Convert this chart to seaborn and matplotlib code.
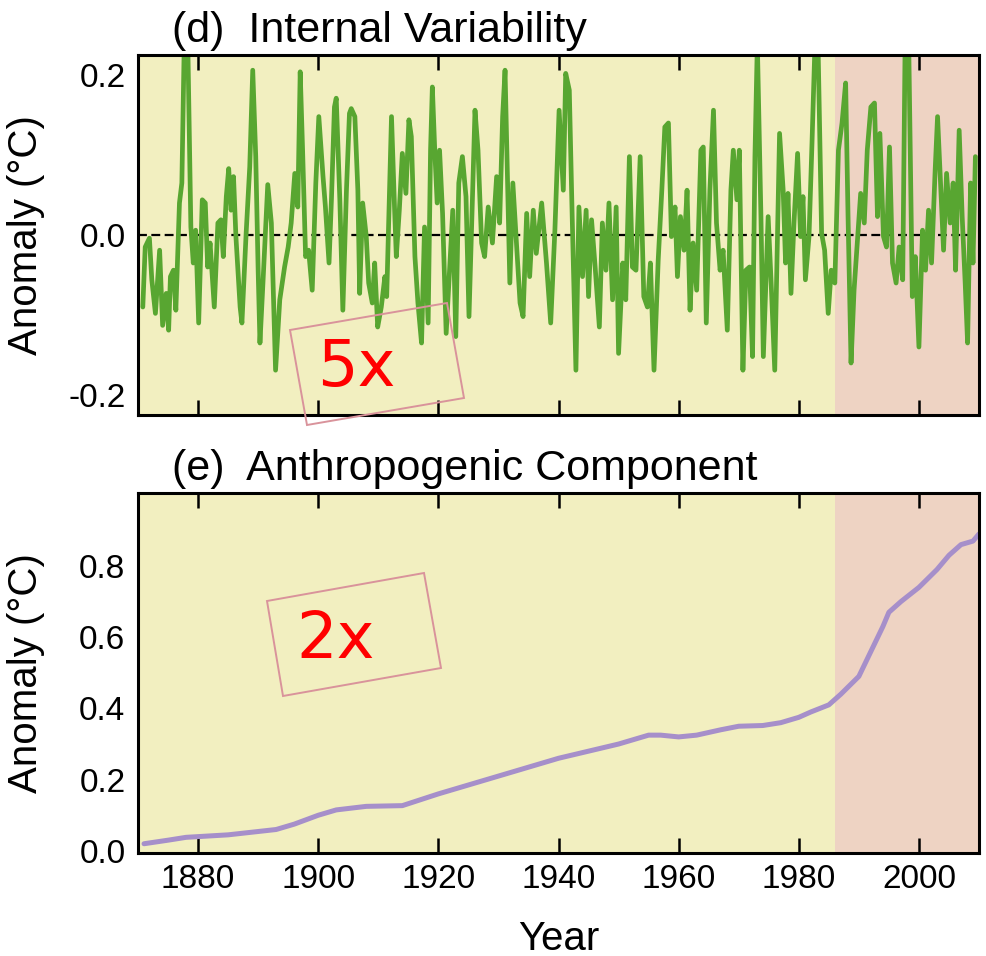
import matplotlib
matplotlib.use('Agg')
import matplotlib.pyplot as plt
from matplotlib.patches import Polygon
import seaborn as sns
import pandas as pd

# (d) internal variability
iv_years = [
    1870.8, 1871.2, 1871.9, 1872.3, 1872.9, 1873.6, 1874.1, 1874.7, 1875.1, 1875.4,
    1875.9, 1876.3, 1876.9, 1877.3, 1877.7, 1878.3, 1878.8, 1879.2, 1879.6, 1880.1,
    1880.7, 1881.2, 1881.6, 1882.0, 1882.7, 1883.3, 1883.8, 1884.2, 1884.7, 1885.1,
    1885.5, 1885.9, 1886.3, 1887.0, 1887.3, 1888.0, 1888.6, 1889.1, 1889.6, 1890.0,
    1890.3, 1890.8, 1891.6, 1892.2, 1892.9, 1893.6, 1894.4, 1895.0, 1895.5, 1896.1,
    1896.6, 1897.0, 1897.4, 1897.9, 1898.4, 1899.0, 1899.6, 1900.1, 1900.8, 1901.2,
    1901.8, 1902.2, 1902.7, 1903.0, 1903.6, 1904.1, 1904.7, 1905.2, 1905.5, 1906.1,
    1906.6, 1906.9, 1907.4, 1908.0, 1908.4, 1909.0, 1909.4, 1909.9, 1910.5, 1911.1,
    1911.4, 1911.9, 1912.2, 1912.7, 1913.0, 1913.5, 1914.0, 1914.6, 1915.1, 1915.5,
    1916.1, 1916.6, 1917.2, 1917.7, 1918.3, 1918.7, 1919.0, 1919.4, 1919.8, 1920.2,
    1920.7, 1921.3, 1921.9, 1922.4, 1922.9, 1923.4, 1924.0, 1924.6, 1925.1, 1925.7,
    1926.1, 1926.6, 1927.2, 1927.7, 1928.3, 1929.0, 1929.7, 1930.2, 1930.7, 1931.1,
    1931.4, 1931.9, 1932.4, 1933.0, 1933.6, 1934.1, 1934.7, 1935.2, 1935.8, 1936.3,
    1937.2, 1938.0, 1938.7, 1939.4, 1940.1, 1940.8, 1941.2, 1941.8, 1942.2, 1942.9,
    1943.4, 1944.0, 1944.6, 1945.0, 1945.5, 1946.1, 1946.8, 1947.3, 1947.9, 1948.4,
    1949.0, 1949.6, 1950.0, 1950.7, 1951.2, 1951.8, 1952.3, 1952.9, 1953.6, 1954.2,
    1954.8, 1955.3, 1955.9, 1956.6, 1957.2, 1957.7, 1958.3, 1958.8, 1959.4, 1959.8,
    1960.3, 1960.9, 1961.4, 1961.9, 1962.4, 1963.0, 1963.7, 1964.1, 1964.6, 1965.2,
    1965.8, 1966.3, 1966.9, 1967.4, 1968.1, 1968.7, 1969.1, 1969.7, 1970.1, 1970.7,
    1971.2, 1971.8, 1972.3, 1972.7, 1973.1, 1973.7, 1974.1, 1974.9, 1975.4, 1976.0,
    1976.4, 1976.8, 1977.4, 1977.8, 1978.2, 1978.7, 1979.2, 1979.8, 1980.3, 1980.7,
    1981.1, 1981.7, 1982.2, 1982.7, 1983.2, 1983.8, 1984.3, 1984.9, 1985.4, 1986.0,
    1986.6, 1987.2, 1987.8, 1988.2, 1988.7, 1989.2, 1989.8, 1990.3, 1990.9, 1991.4,
    1992.0, 1992.6, 1993.1, 1993.5, 1994.1, 1994.6, 1995.1, 1995.6, 1996.2, 1996.7,
    1997.3, 1997.7, 1998.3, 1998.9, 1999.4, 2000.0, 2000.6, 2001.1, 2001.6, 2002.1,
    2002.7, 2003.1, 2003.6, 2004.1, 2004.6, 2005.2, 2005.7, 2006.1, 2006.7, 2007.2,
    2007.7, 2008.1, 2008.6, 2009.0, 2009.4,
]
iv_anom = [
    -0.090, -0.015, -0.004, -0.056, -0.098, -0.019, -0.113, -0.073, -0.119, -0.052,
    -0.044, -0.094, 0.040, 0.065, 0.240, 0.235, 0.010, -0.035, 0.006, -0.110,
    0.044, 0.040, -0.040, -0.010, -0.090, 0.015, 0.019, -0.027, 0.048, 0.083,
    0.031, 0.073, -0.002, -0.090, -0.110, 0.002, 0.085, 0.206, 0.098, -0.044,
    -0.135, -0.060, 0.063, 0.015, -0.169, -0.081, -0.040, -0.015, 0.015, 0.077,
    0.035, 0.204, 0.106, -0.027, -0.019, -0.069, 0.065, 0.148, 0.073, 0.035,
    -0.035, 0.044, 0.160, 0.171, 0.044, -0.094, 0.056, 0.152, 0.158, 0.148,
    0.056, -0.073, 0.040, -0.002, -0.060, -0.085, -0.035, -0.115, -0.090, -0.052,
    -0.077, 0.065, 0.148, 0.035, -0.027, 0.031, 0.102, 0.052, 0.144, 0.123,
    -0.027, -0.085, -0.135, 0.010, -0.110, 0.106, 0.185, 0.106, 0.040, 0.106,
    0.027, -0.123, -0.040, 0.031, -0.127, 0.065, 0.098, 0.048, -0.102, 0.052,
    0.156, 0.106, -0.010, -0.027, 0.035, -0.010, 0.073, 0.015, 0.148, 0.206,
    0.106, -0.060, 0.065, -0.010, -0.085, -0.102, 0.027, -0.052, 0.031, -0.023,
    0.040, -0.035, -0.110, 0.006, 0.156, 0.056, 0.202, 0.181, 0.048, -0.169,
    0.035, -0.052, 0.031, -0.077, 0.019, -0.040, -0.115, 0.015, -0.044, 0.040,
    -0.081, 0.035, -0.148, -0.035, -0.081, 0.098, -0.040, -0.044, 0.098, -0.077,
    -0.090, -0.035, -0.169, -0.031, 0.056, 0.135, 0.140, -0.002, 0.035, -0.052,
    0.023, -0.019, 0.056, -0.094, -0.010, -0.069, 0.106, 0.110, -0.110, 0.056,
    0.156, 0.015, -0.044, -0.019, -0.119, 0.056, 0.106, 0.044, 0.106, -0.169,
    -0.044, -0.040, -0.152, 0.098, 0.240, 0.023, -0.152, 0.023, -0.060, -0.169,
    -0.019, 0.127, 0.056, -0.035, 0.052, -0.073, 0.015, 0.102, -0.002, 0.048,
    -0.056, -0.002, 0.115, 0.240, 0.240, 0.002, -0.019, -0.098, -0.044, -0.060,
    0.106, 0.140, 0.190, 0.023, -0.160, -0.069, -0.002, 0.052, 0.015, 0.106,
    0.160, 0.165, 0.023, 0.127, -0.002, -0.015, 0.110, -0.035, -0.060, -0.015,
    -0.056, 0.240, 0.240, -0.077, -0.027, -0.140, 0.006, -0.044, 0.031, -0.035,
    0.081, 0.148, 0.065, -0.019, 0.077, 0.015, 0.065, -0.044, 0.131, 0.023,
    -0.060, -0.135, 0.065, -0.035, 0.098,
]

# (e) anthropogenic component
anth_years = [1871, 1875, 1878, 1885, 1893, 1896, 1900, 1903, 1908, 1914,
              1920, 1925, 1930, 1935, 1940, 1945, 1950, 1955, 1957, 1960,
              1963, 1967, 1970, 1974, 1977, 1980, 1982, 1985, 1987, 1990,
              1992, 1994, 1995, 1997, 2000, 2003, 2005, 2007, 2009, 2010]
anth_anom = [0.020, 0.030, 0.038, 0.045, 0.060, 0.075, 0.100, 0.115, 0.125, 0.127,
             0.160, 0.185, 0.210, 0.235, 0.260, 0.280, 0.300, 0.325, 0.325, 0.320,
             0.325, 0.340, 0.350, 0.352, 0.360, 0.375, 0.390, 0.410, 0.440, 0.490,
             0.560, 0.630, 0.670, 0.700, 0.740, 0.790, 0.830, 0.860, 0.870, 0.890]

x_ticks = [1880, 1900, 1920, 1940, 1960, 1980, 2000]
split_year = 1986

YELLOW = '#f2efc0'
PINK = '#eed3c3'
GREEN = '#58a631'
PURPLE = '#a68fca'
W, H = 986, 956

sns.set_theme(style='white')
plt.rcParams['font.family'] = ['Liberation Sans', 'DejaVu Sans']
plt.rcParams['text.color'] = 'black'
plt.rcParams['axes.labelcolor'] = 'black'
plt.rcParams['xtick.color'] = 'black'
plt.rcParams['ytick.color'] = 'black'

fig = plt.figure(figsize=(W / 100, H / 100), dpi=100)
ax1 = fig.add_axes([138 / W, 1 - 415 / H, 841 / W, 360 / H])
ax2 = fig.add_axes([138 / W, 1 - 853 / H, 841 / W, 360 / H])


def style_axes(ax, title):
    ax.set_facecolor(YELLOW)
    ax.axvspan(split_year, 2010, color=PINK, lw=0, zorder=0)
    ax.set_xlim(1870, 2010)
    ax.set_xticks(x_ticks)
    ax.tick_params(axis='x', direction='in', length=11, width=1.8, color='black',
                   top=True, bottom=True, labelsize=24, pad=8)
    ax.tick_params(axis='y', length=0, labelsize=24, pad=9)
    for s in ax.spines.values():
        s.set_color('black')
        s.set_linewidth(2.2)
    ax.text(0.04, 1.012, title, transform=ax.transAxes, fontsize=31,
            ha='left', va='bottom', color='black')


df_iv = pd.DataFrame({'year': iv_years, 'anom': iv_anom})
df_anth = pd.DataFrame({'year': anth_years, 'anom': anth_anom})

# top panel
style_axes(ax1, '(d)  Internal Variability')
ax1.axhline(0, color='black', lw=1.6, ls=(0, (4, 2)), zorder=1)
sns.lineplot(data=df_iv, x='year', y='anom', ax=ax1, color=GREEN, linewidth=3.4,
             sort=False, estimator=None, zorder=2)
ax1.set_ylim(-0.225, 0.225)
ax1.set_yticks([-0.2, 0.0, 0.2])
ax1.set_yticklabels(['-0.2', '0.0', '0.2'])
ax1.set_xticklabels([])
ax1.set_xlabel('')
ax1.set_ylabel('Anomaly (°C)', fontsize=29)
ax1.yaxis.set_label_coords(-0.111, 0.5)

# bottom panel
style_axes(ax2, '(e)  Anthropogenic Component')
sns.lineplot(data=df_anth, x='year', y='anom', ax=ax2, color=PURPLE, linewidth=3.6,
             sort=False, estimator=None, zorder=2)
ax2.set_ylim(-0.006, 1.005)
ax2.set_yticks([0.0, 0.2, 0.4, 0.6, 0.8])
ax2.set_yticklabels(['0.0', '0.2', '0.4', '0.6', '0.8'])
ax2.set_xlabel('Year', fontsize=29)
ax2.xaxis.set_label_coords(0.5, -0.185)
ax2.set_ylabel('Anomaly (°C)', fontsize=29)
ax2.yaxis.set_label_coords(-0.111, 0.5)


def px(pts):
    return [(x / W, 1 - y / H) for x, y in pts]


# hand-drawn scale boxes
box5 = Polygon(px([(290, 330), (447, 303), (464, 398), (307, 425)]), closed=True,
               fill=False, edgecolor='#d9939b', lw=1.4, transform=fig.transFigure)
box2 = Polygon(px([(267, 601), (424, 573), (441, 668), (283, 696)]), closed=True,
               fill=False, edgecolor='#d9939b', lw=1.4, transform=fig.transFigure)
fig.add_artist(box5)
fig.add_artist(box2)
fig.text(356 / W, 1 - 368 / H, '5x', color='#ff0000', fontsize=46,
         ha='center', va='center', family=['DejaVu Sans'])
fig.text(336 / W, 1 - 640 / H, '2x', color='#ff0000', fontsize=46,
         ha='center', va='center', family=['DejaVu Sans'])

fig.savefig('out.png', dpi=100)
